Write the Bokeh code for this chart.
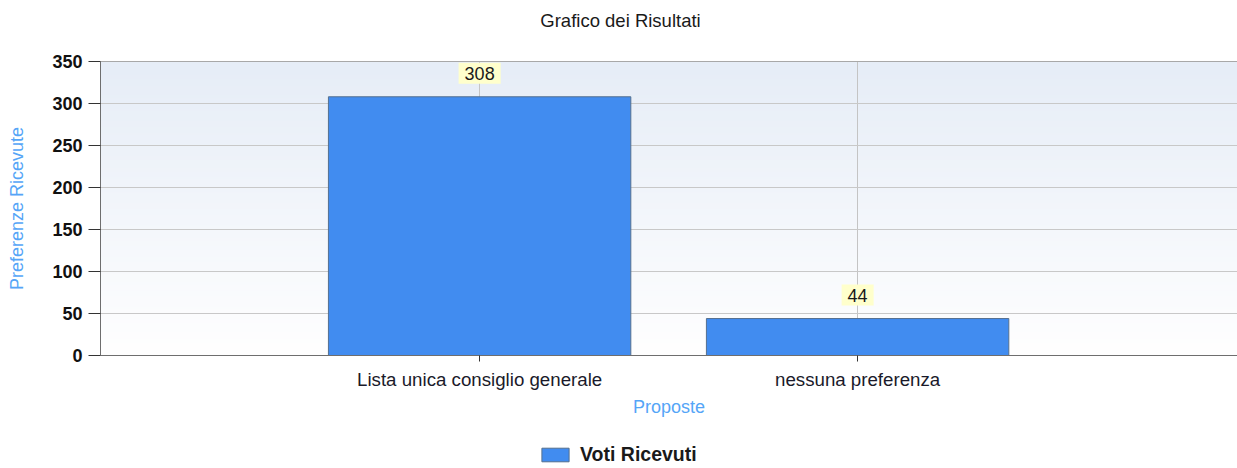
import numpy as np
from bokeh.plotting import figure
from bokeh.layouts import column
from bokeh.models import (ColumnDataSource, Range1d, FixedTicker, Legend,
                          LegendItem, Label, LinearAxis)
from bokeh.core.properties import value
from bokeh.embed import file_html
from bokeh.resources import INLINE

# ---- data ----
categories = ["Lista unica consiglio generale", "nessuna preferenza"]
votes = [308, 44]
y_ticks = [0, 50, 100, 150, 200, 250, 300, 350]
series_name = "Voti Ricevuti"
title_text = "Grafico dei Risultati"
x_label = "Proposte"
y_label = "Preferenze Ricevute"

FONT = "Liberation Sans"
BAR_FILL = "#418CF0"
BAR_LINE = "#55708f"
xs = list(range(1, len(categories) + 1))
src = ColumnDataSource(dict(x=xs, votes=votes, lbl=[str(v) for v in votes]))

# ---- main chart ----
p = figure(width=1237, height=398, output_backend="svg", toolbar_location=None,
           x_range=Range1d(-0.003, 3.005), y_range=Range1d(0, 350),
           min_border_left=100, min_border_right=0, min_border_top=21,
           min_border_bottom=83, title=None)
xa = p.below[0]
ya = p.left[0]
# top border line of the plot area (no ticks, no labels)
top_axis = LinearAxis(ticker=FixedTicker(ticks=[]), axis_line_color="#a8a8a8",
                      major_tick_out=0, major_tick_in=0, major_tick_line_color=None,
                      minor_tick_line_color=None, major_label_standoff=0)
p.add_layout(top_axis, "above")
p.outline_line_color = None
p.background_fill_color = "white"
p.border_fill_color = "white"

# gradient background of plot area
H = 256
img = np.empty((H, 1), dtype=np.uint32)
view = img.view(dtype=np.uint8).reshape((H, 1, 4))
t = np.linspace(0, 1, H)
top = np.array([230, 237, 247]); bot = np.array([255, 255, 255])
for i in range(H):
    c = bot + (top - bot) * t[i]
    view[i, 0, 0] = int(c[0]); view[i, 0, 1] = int(c[1]); view[i, 0, 2] = int(c[2]); view[i, 0, 3] = 255
p.image_rgba(image=[img], x=-0.1, y=0, dw=3.3, dh=350, level="image")

# grid
p.xgrid.ticker = FixedTicker(ticks=xs)
p.ygrid.ticker = FixedTicker(ticks=y_ticks)
p.xgrid.grid_line_color = "#c4c4c4"
p.ygrid.grid_line_color = "#c8c8c8"

bars = p.vbar(x="x", top="votes", width=0.8, source=src, fill_color=BAR_FILL,
              line_color=BAR_LINE, line_width=1)

# axes
xa.ticker = FixedTicker(ticks=xs)
xa.major_label_overrides = {x: c for x, c in zip(xs, categories)}
xa.axis_label = x_label
ya.ticker = FixedTicker(ticks=y_ticks)
ya.axis_label = y_label
for ax in (xa, ya):
    ax.axis_line_color = "#6e6e6e"
    ax.major_tick_line_color = "#333333"
    ax.minor_tick_line_color = None
    ax.major_tick_in = 0
    ax.major_label_text_font = FONT
    ax.axis_label_text_font = FONT
    ax.axis_label_text_font_size = "18px"
    ax.axis_label_text_font_style = "normal"
    ax.axis_label_text_color = "#55a5f7"
xa.major_tick_out = 6
xa.major_label_standoff = 7
xa.major_label_text_font_size = "18.7px"
xa.major_label_text_color = "#1a1a2a"
xa.axis_label_standoff = 4
ya.major_tick_out = 12
ya.major_label_standoff = 6
ya.major_label_text_font_size = "18px"
ya.major_label_text_color = "#111111"
ya.major_label_text_font_style = "bold"
ya.axis_label_standoff = 22

p.text(x="x", y="votes", text="lbl", source=src, text_align="center",
       text_baseline="bottom", y_offset=-13, text_font=value(FONT),
       text_font_size="18px", text_color="#1a1a1a",
       background_fill_color="#ffffcc", padding=(6, 6, 4, 4))

# ---- title strip above the chart ----
tf = figure(width=1237, height=40, output_backend="svg", toolbar_location=None,
            x_range=p.x_range, y_range=Range1d(0, 1),
            min_border=0, title=None, x_axis_location=None, y_axis_location=None)
tf.outline_line_color = None
tf.grid.visible = False
tf.add_layout(Label(x=520, y=20, x_units="screen", y_units="screen", text=title_text,
                    text_align="center", text_baseline="middle", text_font=FONT,
                    text_font_size="18.5px", text_color="#1a1a1a"))

# ---- legend strip below the chart (proxy bars lie outside its visible y range) ----
lg = figure(width=1237, height=30, output_backend="svg", toolbar_location=None,
            x_range=p.x_range, y_range=Range1d(400, 401),
            min_border=0, title=None, x_axis_location=None, y_axis_location=None)
lg.outline_line_color = None
lg.grid.visible = False
proxy = lg.vbar(x="x", top="votes", width=0.8, source=src, fill_color=BAR_FILL,
                line_color=BAR_LINE)
legend = Legend(items=[LegendItem(label=series_name, renderers=[proxy])],
                location=(438, 2), orientation="horizontal",
                glyph_width=34, glyph_height=17, label_height=17, label_standoff=8,
                padding=0, margin=0, spacing=0,
                border_line_color=None, background_fill_alpha=0,
                label_text_font=FONT, label_text_font_size="19.5px",
                label_text_font_style="bold", label_text_color="#1a1a1a")
lg.add_layout(legend, "center")

layout = column(tf, p, lg, spacing=0)
open("out.html", "w").write(file_html(layout, INLINE))
